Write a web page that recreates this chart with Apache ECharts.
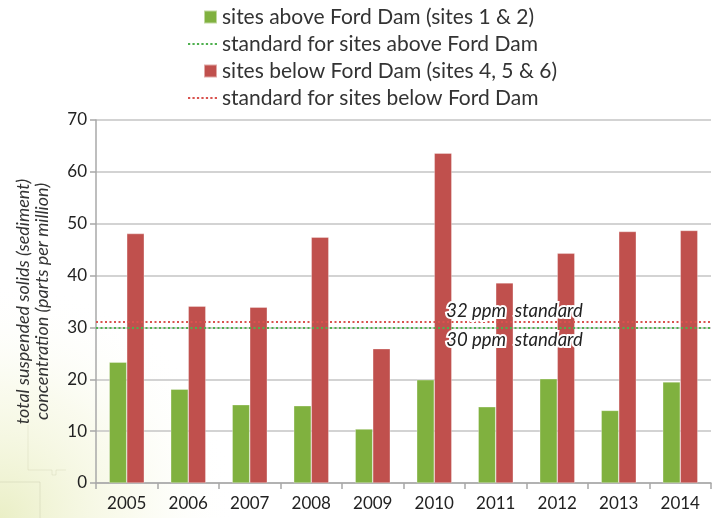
<!DOCTYPE html>
<html>
<head>
<meta charset="utf-8">
<script src="https://cdn.jsdelivr.net/npm/echarts@6/dist/echarts.min.js"></script>
<style>
  html, body { margin: 0; padding: 0; background: #fff; }
  #chart { width: 720px; height: 518px; }
</style>
</head>
<body>
<div id="chart"></div>
<script>
const years = ['2005', '2006', '2007', '2008', '2009', '2010', '2011', '2012', '2013', '2014'];
const aboveDam = [23.3, 18.1, 15.1, 14.9, 10.4, 19.9, 14.7, 20.1, 14.0, 19.5];
const belowDam = [48.1, 34.1, 33.9, 47.4, 25.9, 63.6, 38.6, 44.3, 48.5, 48.7];
const standardAbove = 30;
const standardBelow = 31.1;
const yMin = 0, yMax = 70, yStep = 10;

const names = [
  'sites above Ford Dam (sites 1 & 2)',
  'standard for sites above Ford Dam',
  'sites below Ford Dam (sites 4, 5 & 6)',
  'standard for sites below Ford Dam'
];
const labelAbove = '30 ppm  standard';
const labelBelow = '32 ppm  standard';

const GREEN = '#80b13f';
const RED = '#c0504d';
const GREEN_DOT = '#4fb04f';
const RED_DOT = '#d9534f';
const FONT = 'Lato, "Open Sans", sans-serif';

// dotted line icon for the legend
let dots = '';
for (let i = 0; i < 7; i++) dots += 'M' + (i * 4) + ',0h2v2h-2z';
const dotIcon = 'path://' + dots;

function legendItem(name, icon, left, top, w, h) {
  return {
    data: [{ name: name, icon: icon }],
    left: left,
    top: top,
    padding: 0,
    itemWidth: w,
    itemHeight: h,
    selectedMode: false,
    textStyle: { fontFamily: FONT, fontSize: 21, color: '#333', lineHeight: 26 }
  };
}

const chart = echarts.init(document.getElementById('chart'));

const option = {
  animation: false,
  backgroundColor: '#fff',
  graphic: [
    {
      type: 'rect',
      z: -10,
      shape: { x: 0, y: 280, width: 260, height: 238 },
      style: {
        fill: {
          type: 'radial', x: 0, y: 1, r: 1,
          colorStops: [
            { offset: 0, color: 'rgba(220,228,160,0.6)' },
            { offset: 0.55, color: 'rgba(238,241,200,0.3)' },
            { offset: 1, color: 'rgba(255,255,255,0)' }
          ]
        }
      }
    },
    {
      type: 'polyline', z: -9,
      shape: { points: [[0, 482], [40, 482], [40, 518]] },
      style: { stroke: 'rgba(190,190,160,0.35)', lineWidth: 1, fill: null }
    },
    {
      type: 'polyline', z: -9,
      shape: { points: [[28, 425], [28, 470], [52, 470], [52, 475], [56, 475], [56, 470], [66, 470]] },
      style: { stroke: 'rgba(200,200,170,0.3)', lineWidth: 1, fill: null }
    }
  ],
  legend: [
    legendItem(names[0], 'rect', 203, 4, 13, 13),
    legendItem(names[1], dotIcon, 188, 31, 29, 3),
    legendItem(names[2], 'rect', 203, 58, 13, 13),
    legendItem(names[3], dotIcon, 188, 85, 29, 3)
  ],
  grid: { left: 96, right: 9, top: 120, bottom: 35 },
  xAxis: {
    type: 'category',
    data: years,
    axisLine: { lineStyle: { color: '#a8a8a8', width: 1.5 } },
    axisTick: { show: true, length: 6, lineStyle: { color: '#a8a8a8', width: 1.5 } },
    axisLabel: { fontFamily: FONT, fontSize: 17, color: '#222', margin: 12 }
  },
  yAxis: {
    type: 'value',
    min: yMin,
    max: yMax,
    interval: yStep,
    name: 'total suspended solids (sediment)\nconcentration (parts per million)',
    nameLocation: 'middle',
    nameRotate: 90,
    nameGap: 44,
    nameTextStyle: {
      fontFamily: FONT, fontSize: 18, fontStyle: 'italic', color: '#333',
      lineHeight: 19
    },
    axisLine: { show: true, lineStyle: { color: '#a8a8a8', width: 1.5 } },
    axisTick: { show: true, length: 6, lineStyle: { color: '#a8a8a8', width: 1.5 } },
    axisLabel: { fontFamily: FONT, fontSize: 17, color: '#222', margin: 9 },
    splitLine: { lineStyle: { color: '#c4c4c4', width: 1.5 } }
  },
  series: [
    {
      name: names[0],
      type: 'bar',
      data: aboveDam,
      barWidth: '28.5%',
      barGap: '0%',
      itemStyle: { color: GREEN, borderColor: 'rgba(255,255,255,0.5)', borderWidth: 0.6 }
    },
    {
      name: names[2],
      type: 'bar',
      data: belowDam,
      barWidth: '28.5%',
      barGap: '0%',
      itemStyle: { color: RED, borderColor: 'rgba(255,255,255,0.5)', borderWidth: 0.6 }
    },
    {
      name: names[1],
      type: 'line',
      data: [],
      color: GREEN_DOT,
      z: 5,
      markLine: {
        silent: true,
        symbol: 'none',
        label: { show: false },
        lineStyle: { color: GREEN_DOT, width: 2.2, type: [2, 2.5] },
        data: [{ yAxis: standardAbove }]
      },
      markPoint: {
        symbol: 'circle',
        symbolSize: 0,
        data: [{ coord: ['2010', standardAbove] }],
        label: {
          show: true,
          formatter: labelAbove,
          position: [12, 13],
          align: 'left',
          verticalAlign: 'middle',
          fontFamily: FONT,
          fontSize: 18.5,
          fontStyle: 'italic',
          color: '#222',
          textBorderColor: '#fff',
          textBorderWidth: 4
        }
      }
    },
    {
      name: names[3],
      type: 'line',
      data: [],
      color: RED_DOT,
      z: 5,
      markLine: {
        silent: true,
        symbol: 'none',
        label: { show: false },
        lineStyle: { color: RED_DOT, width: 2.2, type: [2, 2.5] },
        data: [{ yAxis: standardBelow }]
      },
      markPoint: {
        symbol: 'circle',
        symbolSize: 0,
        data: [{ coord: ['2010', standardBelow] }],
        label: {
          show: true,
          formatter: labelBelow,
          position: [12, -11],
          align: 'left',
          verticalAlign: 'middle',
          fontFamily: FONT,
          fontSize: 18.5,
          fontStyle: 'italic',
          color: '#222',
          textBorderColor: '#fff',
          textBorderWidth: 4
        }
      }
    }
  ]
};

chart.setOption(option);
</script>
</body>
</html>
